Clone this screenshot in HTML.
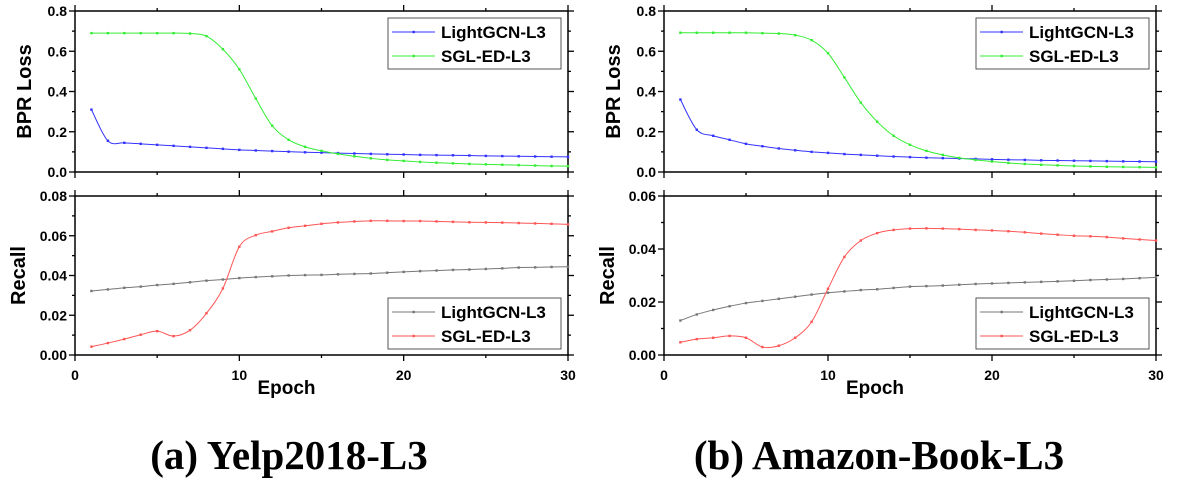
<!DOCTYPE html>
<html><head><meta charset="utf-8"><style>
body{margin:0;background:#fff;}
svg text{font-family:"Liberation Sans",Arial,sans-serif;font-weight:bold;}
</style></head><body>
<svg id="c" width="1180" height="491" xmlns="http://www.w3.org/2000/svg"></svg>
<script>
const epochs = Array.from({length:30},(_,i)=>i+1);
const yelpLossLightGCN = [0.31,0.155,0.145,0.14,0.135,0.13,0.125,0.12,0.115,0.11,0.107,0.104,0.101,0.098,0.096,0.094,0.092,0.09,0.088,0.087,0.085,0.084,0.083,0.082,0.08,0.079,0.078,0.077,0.076,0.075];
const yelpLossSGL = [0.69,0.69,0.69,0.69,0.69,0.69,0.688,0.675,0.61,0.51,0.365,0.23,0.16,0.125,0.105,0.09,0.078,0.068,0.06,0.055,0.05,0.046,0.043,0.04,0.038,0.036,0.034,0.032,0.03,0.029];
const yelpRecallLightGCN = [0.0322,0.033,0.0338,0.0344,0.0352,0.0358,0.0366,0.0374,0.038,0.0387,0.0392,0.0396,0.04,0.0402,0.0403,0.0406,0.0408,0.041,0.0414,0.0418,0.0422,0.0425,0.0428,0.043,0.0433,0.0436,0.044,0.0441,0.0443,0.0444];
const yelpRecallSGL = [0.0042,0.006,0.008,0.0102,0.012,0.0095,0.0125,0.021,0.0335,0.0545,0.0603,0.0622,0.064,0.065,0.066,0.0667,0.0672,0.0675,0.0675,0.0674,0.0674,0.0672,0.067,0.0668,0.0667,0.0666,0.0664,0.0662,0.066,0.0657];
const amzLossLightGCN = [0.36,0.21,0.18,0.16,0.14,0.128,0.117,0.108,0.1,0.095,0.089,0.085,0.081,0.077,0.074,0.071,0.069,0.067,0.065,0.063,0.061,0.06,0.058,0.057,0.056,0.055,0.054,0.053,0.052,0.051];
const amzLossSGL = [0.692,0.692,0.692,0.692,0.692,0.69,0.688,0.68,0.655,0.59,0.47,0.345,0.25,0.18,0.135,0.105,0.085,0.07,0.06,0.052,0.045,0.04,0.036,0.033,0.03,0.028,0.026,0.025,0.024,0.023];
const amzRecallLightGCN = [0.013,0.0153,0.017,0.0184,0.0196,0.0204,0.0212,0.022,0.0228,0.0235,0.024,0.0245,0.0248,0.0253,0.0258,0.026,0.0262,0.0265,0.0268,0.027,0.0272,0.0274,0.0276,0.0278,0.028,0.0283,0.0285,0.0287,0.029,0.0293];
const amzRecallSGL = [0.0048,0.006,0.0065,0.0072,0.0065,0.003,0.0035,0.0065,0.0125,0.025,0.037,0.0432,0.046,0.0472,0.0477,0.0478,0.0477,0.0475,0.0472,0.047,0.0467,0.0463,0.0458,0.0454,0.045,0.0448,0.0445,0.044,0.0436,0.0432];
const xTicks = [0,10,20,30];
const lossTicks = [0,0.2,0.4,0.6,0.8];
const yelpRecallTicks = [0,0.02,0.04,0.06,0.08];
const amzRecallTicks = [0,0.02,0.04,0.06];
const seriesNames = ["LightGCN-L3","SGL-ED-L3"];

const svg=document.getElementById('c');
const NS='http://www.w3.org/2000/svg';
function el(tag,attrs,parent){const e=document.createElementNS(NS,tag);for(const k in attrs)e.setAttribute(k,attrs[k]);(parent||svg).appendChild(e);return e;}
function smooth(pts){let d=`M${pts[0][0]},${pts[0][1]}`;for(let i=0;i<pts.length-1;i++){const p0=pts[i-1]||pts[i],p1=pts[i],p2=pts[i+1],p3=pts[i+2]||p2;d+=` C${p1[0]+(p2[0]-p0[0])/6},${p1[1]+(p2[1]-p0[1])/6} ${p2[0]-(p3[0]-p1[0])/6},${p2[1]-(p3[1]-p1[1])/6} ${p2[0]},${p2[1]}`;}return d;}

function plot(x0,x1,yTop,yBot,ymax,yticks,fmt,series,colors,legendY,ylabel,ylabelX,showX,name){
  const g=el('g',{});
  
  
  const sx=v=>x0+(v/30)*(x1-x0), sy=v=>yBot-(v/ymax)*(yBot-yTop);
  el('rect',{x:x0,y:yTop,width:x1-x0,height:yBot-yTop,fill:'none',stroke:'#000','stroke-width':1.5},g);
  for(let v=0;v<=30;v+=5){const L=v%10===0?6:3;const X=sx(v);
    el('line',{x1:X,x2:X,y1:yBot,y2:yBot+L,stroke:'#000','stroke-width':1.3},g);
    el('line',{x1:X,x2:X,y1:yTop,y2:yTop-L,stroke:'#000','stroke-width':1.3},g);}
  if(showX){xTicks.forEach(v=>{const t=el('text',{x:sx(v),y:yBot+25,'font-size':14,'text-anchor':'middle'},g);t.textContent=v;
    });}
  const step=yticks[1]-yticks[0];
  for(let i=0;i<yticks.length;i++){const v=yticks[i];const Y=sy(v);
    el('line',{x1:x0-6,x2:x0,y1:Y,y2:Y,stroke:'#000','stroke-width':1.3},g);
    el('line',{x1:x1,x2:x1+6,y1:Y,y2:Y,stroke:'#000','stroke-width':1.3},g);
    if(i<yticks.length-1){const Ym=sy(v+step/2);
      el('line',{x1:x0-3,x2:x0,y1:Ym,y2:Ym,stroke:'#000','stroke-width':1.3},g);
      el('line',{x1:x1,x2:x1+3,y1:Ym,y2:Ym,stroke:'#000','stroke-width':1.3},g);}
    const t=el('text',{x:x0-8,y:Y+5,'font-size':14,'text-anchor':'end'},g);t.textContent=v.toFixed(fmt);
    }
  const yl=el('text',{x:ylabelX,y:(yTop+yBot)/2,'font-size':20,'text-anchor':'middle',transform:`rotate(-90 ${ylabelX} ${(yTop+yBot)/2})`},g);
  yl.textContent=ylabel;
  series.forEach((s,k)=>{const pts=epochs.map((e,i)=>[sx(e),sy(s[i])]);
    const p=el('path',{d:smooth(pts),fill:'none',stroke:colors[k],'stroke-width':1},g);
    
    pts.forEach(q=>{const m=el('rect',{x:q[0]-1.2,y:q[1]-1.2,width:2.4,height:2.4,fill:colors[k]},g);
      });});
  const lg=el('g',{},g);
  const lx=x1-180;
  el('rect',{x:lx,y:legendY,width:173,height:51,fill:'#fff',stroke:'#555','stroke-width':1},lg);
  seriesNames.forEach((n,k)=>{const Y=legendY+14+k*24;
    el('line',{x1:lx+4,x2:lx+47,y1:Y,y2:Y,stroke:colors[k],'stroke-width':1},lg);
    el('rect',{x:lx+24.5,y:Y-1.2,width:2.4,height:2.4,fill:colors[k]},lg);
    const t=el('text',{x:lx+53,y:Y+6,'font-size':17},lg);t.textContent=n;
    });
}
[[75,568,yelpLossLightGCN,yelpLossSGL,yelpRecallLightGCN,yelpRecallSGL,yelpRecallTicks,0.08,'yelp'],
 [664,1156,amzLossLightGCN,amzLossSGL,amzRecallLightGCN,amzRecallSGL,amzRecallTicks,0.06,'amazon']].forEach(c=>{
  const [x0,x1,l1,l2,r1,r2,rt,rmax,nm]=c;
  plot(x0,x1,11,172,0.8,lossTicks,1,[l1,l2],['#3333ff','#33ee33'],18,'BPR Loss',x0-44,false,nm+'-loss-chart');
  plot(x0,x1,196,355,rmax,rt,2,[r1,r2],['#777777','#ff5555'],298,'Recall',x0-50,true,nm+'-recall-chart');
  const t=el('text',{x:(x0+x1)/2-35,y:394,'font-size':19,'text-anchor':'middle'});t.textContent='Epoch';
  
});
[['(a) Yelp2018-L3',289],['(b) Amazon-Book-L3',879]].forEach(([s,x])=>{
  const t=el('text',{x:x,y:469,'font-size':41,'text-anchor':'middle',style:'font-family:"Liberation Serif",serif;font-weight:bold'});
  t.textContent=s;});
</script>
</body></html>
